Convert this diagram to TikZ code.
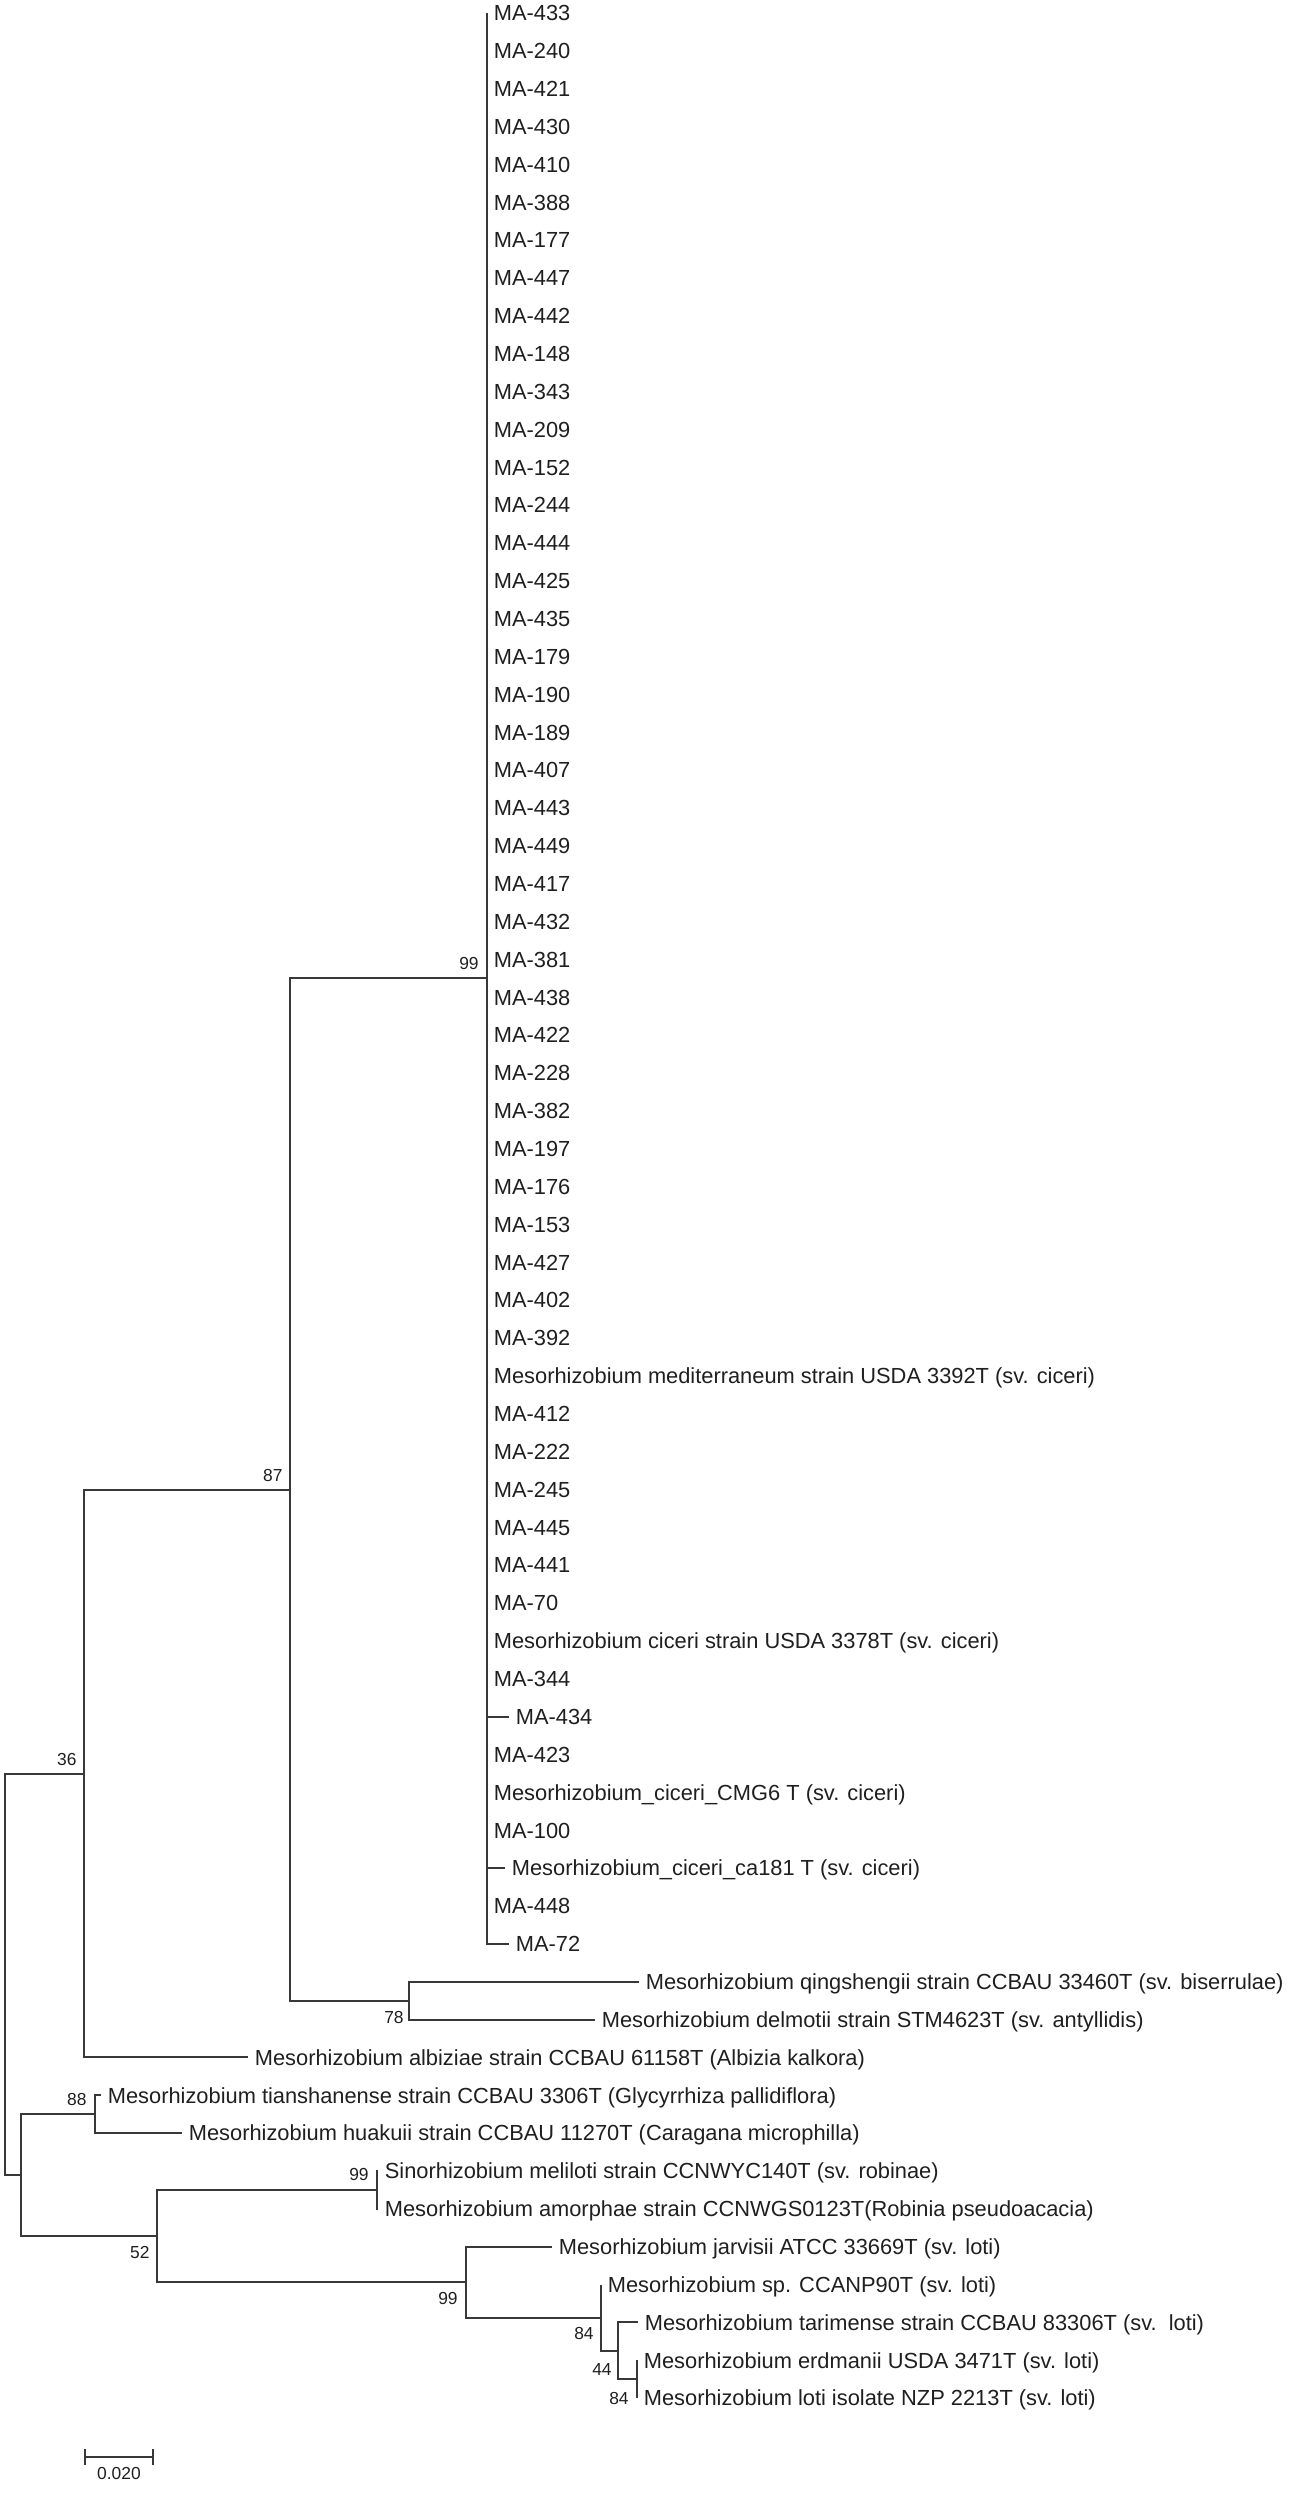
\documentclass[tikz,border=0pt]{standalone}
\usepackage{fontspec}
\setmainfont{Liberation Sans}
\begin{document}
\begin{tikzpicture}[x=0.5pt,y=-0.5pt,
  br/.style={line width=1pt, draw=black!78, line join=miter},
  leaf/.style={anchor=base west, inner sep=0pt, font=\fontsize{10.92}{12}\selectfont, text=black!88},
  boot/.style={anchor=base east, inner sep=0pt, font=\fontsize{8.7}{10}\selectfont, text=black!88}]
\useasboundingbox (0,0) rectangle (1304,2500);
% internal nodes
\coordinate (n99)  at (487,978.4);
\coordinate (n78)  at (409,2000.6);
\coordinate (n87)  at (290,1489.5);
\coordinate (n36)  at (84,1773.5);
\coordinate (n88)  at (95,2114.2);
\coordinate (n99s) at (377,2190.0);
\coordinate (n84b) at (637,2379.2);
\coordinate (n44)  at (618,2350.8);
\coordinate (n84a) at (601,2317.7);
\coordinate (n99b) at (466,2282.2);
\coordinate (n52)  at (157,2236.1);
\coordinate (nX)   at (21,2175.2);
\coordinate (root) at (5,1974.3);
% internal branches
\draw[br] (root) |- (n36);
\draw[br] (root) |- (nX);
\draw[br] (n36) |- (n87);
\draw[br] (n87) |- (n99);
\draw[br] (n87) |- (n78);
\draw[br] (nX) |- (n88);
\draw[br] (nX) |- (n52);
\draw[br] (n52) |- (n99s);
\draw[br] (n52) |- (n99b);
\draw[br] (n99b) |- (n84a);
\draw[br] (n84a) |- (n44);
\draw[br] (n44) |- (n84b);
% main clade leaves
\foreach \i/\xe/\lab in {1/487/MA-433,2/487/MA-240,3/487/MA-421,4/487/MA-430,5/487/MA-410,
  6/487/MA-388,7/487/MA-177,8/487/MA-447,9/487/MA-442,10/487/MA-148,11/487/MA-343,
  12/487/MA-209,13/487/MA-152,14/487/MA-244,15/487/MA-444,16/487/MA-425,17/487/MA-435,
  18/487/MA-179,19/487/MA-190,20/487/MA-189,21/487/MA-407,22/487/MA-443,23/487/MA-449,
  24/487/MA-417,25/487/MA-432,26/487/MA-381,27/487/MA-438,28/487/MA-422,29/487/MA-228,
  30/487/MA-382,31/487/MA-197,32/487/MA-176,33/487/MA-153,34/487/MA-427,35/487/MA-402,
  36/487/MA-392,37/487/{Mesorhizobium mediterraneum strain USDA 3392T (sv. ciceri)},
  38/487/MA-412,39/487/MA-222,40/487/MA-245,41/487/MA-445,42/487/MA-441,43/487/MA-70,
  44/487/{Mesorhizobium ciceri strain USDA 3378T (sv. ciceri)},45/487/MA-344,
  46/509/MA-434,47/487/MA-423,48/487/{Mesorhizobium\_ciceri\_CMG6 T (sv. ciceri)},
  49/487/MA-100,50/505/{Mesorhizobium\_ciceri\_ca181 T (sv. ciceri)},51/487/MA-448,
  52/509/MA-72}{
  \pgfmathsetmacro\yy{13+(\i-1)*37.86}
  \coordinate (e\i) at (\xe,\yy);
  \draw[br] (n99) |- (e\i);
  \path (e\i) ++(6.5,7.7) node[leaf] (t\i) {\lab};
}
% other leaves
\foreach \i/\xe/\pnode/\lab in {
  53/639/n78/{Mesorhizobium qingshengii strain CCBAU 33460T (sv. biserrulae)},
  54/595/n78/{Mesorhizobium delmotii strain STM4623T (sv. antyllidis)},
  55/248/n36/{Mesorhizobium albiziae strain CCBAU 61158T (Albizia kalkora)},
  56/101/n88/{Mesorhizobium tianshanense strain CCBAU 3306T (Glycyrrhiza pallidiflora)},
  57/182/n88/{Mesorhizobium huakuii strain CCBAU 11270T (Caragana microphilla)},
  58/378/n99s/{Sinorhizobium meliloti strain CCNWYC140T (sv. robinae)},
  59/378/n99s/{Mesorhizobium amorphae strain CCNWGS0123T(Robinia pseudoacacia)},
  60/552/n99b/{Mesorhizobium jarvisii ATCC 33669T (sv. loti)},
  61/601/n84a/{Mesorhizobium sp. CCANP90T (sv. loti)},
  62/638/n44/{Mesorhizobium tarimense strain CCBAU 83306T (sv.\ \ loti)},
  63/637/n84b/{Mesorhizobium erdmanii USDA 3471T (sv. loti)},
  64/637/n84b/{Mesorhizobium loti isolate NZP 2213T (sv. loti)}}{
  \pgfmathsetmacro\yy{13+(\i-1)*37.86}
  \coordinate (e\i) at (\xe,\yy);
  \draw[br] (\pnode) |- (e\i);
  \path (e\i) ++(6.5,7.7) node[leaf] (t\i) {\lab};
}
% bootstrap values
\path (n99)  ++(-8,-9.3) node[boot] (b99)  {99};
\path (n87)  ++(-7,-7.8) node[boot] (b87)  {87};
\path (n36)  ++(-7,-7.8) node[boot] (b36)  {36};
\path (n78)  ++(-5,23.2) node[boot] (b78)  {78};
\path (n88)  ++(-8,-8.8) node[boot] (b88)  {88};
\path (n99s) ++(-8,-9.8) node[boot] (b99s) {99};
\path (n52)  ++(-7,22.2) node[boot] (b52)  {52};
\path (n99b) ++(-8,22.2) node[boot] (b99b) {99};
\path (n84a) ++(-7,22.2) node[boot] (b84a) {84};
\path (n44)  ++(-6,24.2) node[boot] (b44)  {44};
\path (n84b) ++(-8,25.2) node[boot] (b84b) {84};
% scale bar
\coordinate (sbL) at (85,2457);
\coordinate (sbR) at (153,2457);
\draw[br] (sbL) -- (sbR);
\draw[br] (sbL) ++(0,-8) -- ++(0,16);
\draw[br] (sbR) ++(0,-8) -- ++(0,16);
\node[boot, anchor=base] (sbt) at (119,2479.5) {0.020};
\end{tikzpicture}
\end{document}
